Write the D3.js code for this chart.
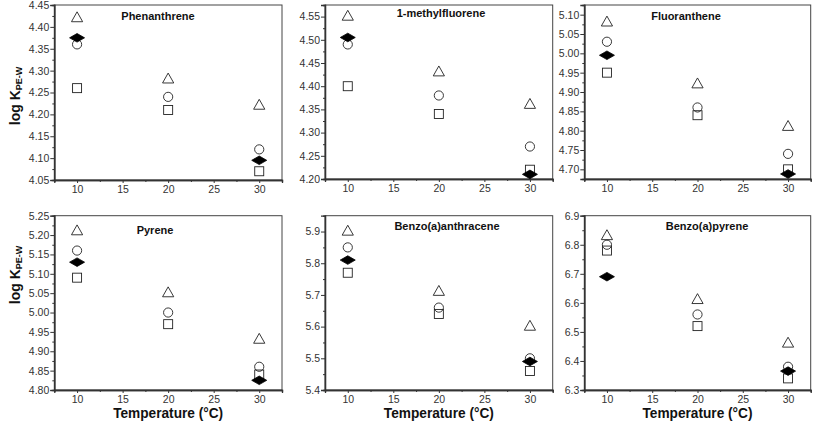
<!DOCTYPE html>
<html><head><meta charset="utf-8">
<script src="https://cdn.jsdelivr.net/npm/d3@7"></script>
<style>body{margin:0;background:#fff}svg{display:block}</style>
</head><body>
<svg id="c" width="813" height="433"></svg>
<script>
const compounds = ["Phenanthrene", "1-methylfluorene", "Fluoranthene", "Pyrene", "Benzo(a)anthracene", "Benzo(a)pyrene"];
const temps = [10, 20, 30];
const diamondTemps = [10, 30];
const triangleVals = [[4.42,4.28,4.22],[4.55,4.43,4.36],[5.08,4.92,4.81],[5.21,5.05,4.93],[5.90,5.71,5.60],[6.83,6.61,6.46]];
const circleVals   = [[4.36,4.24,4.12],[4.49,4.38,4.27],[5.03,4.86,4.74],[5.16,5.00,4.86],[5.85,5.66,5.50],[6.80,6.56,6.38]];
const squareVals   = [[4.26,4.21,4.07],[4.40,4.34,4.22],[4.95,4.84,4.70],[5.09,4.97,4.84],[5.77,5.64,5.46],[6.78,6.52,6.34]];
const diamondVals  = [[4.375,4.095],[4.505,4.21],[4.995,4.688],[5.13,4.825],[5.81,5.49],[6.69,6.365]];
const yDomains = [[4.05,4.45],[4.20,4.575],[4.675,5.125],[4.80,5.25],[5.40,5.95],[6.30,6.90]];
const yTickLabels = [
  ["4.05","4.10","4.15","4.20","4.25","4.30","4.35","4.40","4.45"],
  ["4.20","4.25","4.30","4.35","4.40","4.45","4.50","4.55"],
  ["4.70","4.75","4.80","4.85","4.90","4.95","5.00","5.05","5.10"],
  ["4.80","4.85","4.90","4.95","5.00","5.05","5.10","5.15","5.20","5.25"],
  ["5.4","5.5","5.6","5.7","5.8","5.9"],
  ["6.3","6.4","6.5","6.6","6.7","6.8","6.9"]
];
const yMinorStep = [0.025,0.025,0.025,0.025,0.05,0.05];
const xDomain = [7.5, 32.5];
const xTickLabels = ["10","15","20","25","30"];
const xMinor = [12.5,17.5,22.5,27.5];
const yTitle = "log K";
const ySub = "PE-W";
const xTitle = "Temperature (°C)";

// layout
const panels = [
  {l:54.3, r:282, t:5, b:180, tx:158, ty:20},
  {l:325, r:552.7, t:5, b:179, tx:441, ty:17},
  {l:584.3, r:810.7, t:5, b:179, tx:686, ty:20},
  {l:54.3, r:282, t:215.7, b:390, tx:155, ty:234},
  {l:325, r:552.7, t:215.7, b:390, tx:447, ty:230},
  {l:584.3, r:810.7, t:215.7, b:390, tx:707, ty:230}
];
const svg = d3.select("#c");
const font = "'Liberation Sans', Arial, sans-serif";
const ink = "#222";

const triPath = "M0,-6.3L5.6,3.6L-5.6,3.6Z";
const diaPath = "M-7.5,0L0,-4.3L7.5,0L0,4.3Z";

panels.forEach((p, i) => {
  const x = d3.scaleLinear().domain(xDomain).range([p.l, p.r]);
  const y = d3.scaleLinear().domain(yDomains[i]).range([p.b, p.t]);
  const g = svg.append("g");

  // frame
  g.append("rect").attr("x", p.l).attr("y", p.t).attr("width", p.r - p.l).attr("height", p.b - p.t)
    .attr("fill", "none").attr("stroke", "#444").attr("stroke-width", 1);

  // y axis
  const yMaj = yTickLabels[i].map(Number);
  const ya = g.append("g").attr("transform", `translate(${p.l},0)`)
    .call(d3.axisLeft(y).tickValues(yMaj).tickFormat((d, k) => yTickLabels[i][k]).tickSize(4).tickPadding(1));
  const yMinVals = [];
  for (let k = 0; k < yMaj.length; k++) { const v = yMaj[k] + yMinorStep[i]; if (v < yDomains[i][1]) yMinVals.push(v); if (k===0 && yMaj[0]-yMinorStep[i] > yDomains[i][0]-1e-9) yMinVals.push(yMaj[0]-yMinorStep[i]); }
  const ym = g.append("g").attr("transform", `translate(${p.l},0)`)
    .call(d3.axisLeft(y).tickValues(yMinVals).tickFormat("").tickSize(2));
  // x axis
  const xa = g.append("g").attr("transform", `translate(0,${p.b})`)
    .call(d3.axisBottom(x).tickValues(xTickLabels.map(Number)).tickFormat((d,k)=>xTickLabels[k]).tickSize(3).tickPadding(3));
  const xm = g.append("g").attr("transform", `translate(0,${p.b})`)
    .call(d3.axisBottom(x).tickValues(xMinor).tickFormat("").tickSize(2));
  [ya, ym, xa, xm].forEach(a => {
    a.select(".domain").attr("stroke", "#333").attr("stroke-width", 1.3);
    a.selectAll(".tick line").attr("stroke", "#333");
    a.selectAll("text").attr("fill", "#333").style("font-family", font).style("font-size", "10.5px");
  });

  // title
  g.append("text").attr("x", p.tx).attr("y", p.ty).attr("text-anchor", "middle")
    .style("font-family", font).style("font-size", "11px").style("font-weight", "bold").attr("fill", "#111")
    .text(compounds[i]);

  // markers
  g.selectAll(".tri").data(temps).join("path").attr("d", triPath)
    .attr("transform", (d,k) => `translate(${x(d)},${y(triangleVals[i][k])})`)
    .attr("fill", "none").attr("stroke", ink).attr("stroke-width", 0.9);
  g.selectAll(".cir").data(temps).join("circle")
    .attr("cx", d => x(d)).attr("cy", (d,k) => y(circleVals[i][k])).attr("r", 4.6)
    .attr("fill", "none").attr("stroke", ink).attr("stroke-width", 0.9);
  g.selectAll(".sq").data(temps).join("rect")
    .attr("x", d => x(d) - 4.5).attr("y", (d,k) => y(squareVals[i][k]) - 4.5).attr("width", 9).attr("height", 9)
    .attr("fill", "none").attr("stroke", ink).attr("stroke-width", 0.9);
  g.selectAll(".dia").data(diamondTemps).join("path").attr("d", diaPath)
    .attr("transform", (d,k) => `translate(${x(d)},${y(diamondVals[i][k])})`)
    .attr("fill", "#000").attr("stroke", "#000").attr("stroke-width", 0.8);

  // y title (left column)
  if (i === 0 || i === 3) {
    const cy = i === 0 ? 96 : 275;
    const t = g.append("text").attr("transform", `translate(20,${cy}) rotate(-90)`).attr("text-anchor", "middle")
      .style("font-family", font).style("font-weight", "bold").attr("fill", "#111");
    t.append("tspan").style("font-size", "14px").text(yTitle);
    t.append("tspan").style("font-size", "9px").attr("dy", 2).text(ySub);
  }
  // x title (bottom row)
  if (i >= 3) {
    g.append("text").attr("x", (p.l + p.r) / 2).attr("y", 418).attr("text-anchor", "middle")
      .style("font-family", font).style("font-size", "15.5px").style("font-weight", "bold").attr("fill", "#111")
      .attr("textLength", 110).attr("lengthAdjust", "spacingAndGlyphs")
      .text(xTitle);
  }
});
</script>
</body></html>
